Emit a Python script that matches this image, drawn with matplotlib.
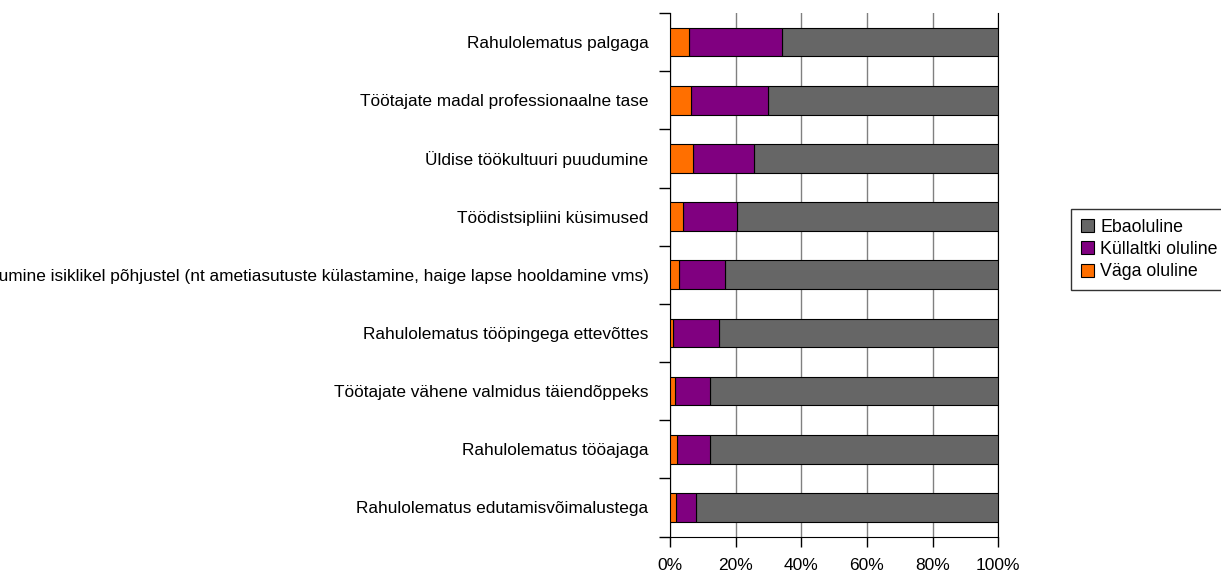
import matplotlib
matplotlib.use("Agg")
import matplotlib.pyplot as plt
import numpy as np

plt.rcParams['font.family'] = ['Liberation Sans', 'DejaVu Sans']

categories = [
    "Rahulolematus palgaga",
    "Töötajate madal professionaalne tase",
    "Üldise töökultuuri puudumine",
    "Töödistsipliini küsimused",
    "Töölt puudumine isiklikel põhjustel (nt ametiasutuste külastamine, haige lapse hooldamine vms)",
    "Rahulolematus tööpingega ettevõttes",
    "Töötajate vähene valmidus täiendõppeks",
    "Rahulolematus tööajaga",
    "Rahulolematus edutamisvõimalustega",
]
vaga_oluline = [5.7, 6.5, 6.9, 3.9, 2.7, 1.0, 1.6, 2.0, 1.7]
kullaltki_oluline = [28.3, 23.4, 18.7, 16.6, 14.0, 14.0, 10.6, 10.2, 6.1]
ebaoluline = [66.0, 70.1, 74.4, 79.5, 83.3, 85.0, 87.8, 87.8, 92.2]
xtick_labels = ["0%", "20%", "40%", "60%", "80%", "100%"]

fig = plt.figure(figsize=(12.21, 5.72), dpi=100)
ax = fig.add_axes([670/1221, 1-536.5/572, (998.3-670)/1221, (536.5-13)/572])

y = np.arange(len(categories))
v = np.array(vaga_oluline)
k = np.array(kullaltki_oluline)
e = np.array(ebaoluline)

h = 0.49
b_e = ax.barh(y, e, left=v+k, height=h, color="#666666", edgecolor="black", linewidth=0.8, label="Ebaoluline", zorder=3)
b_k = ax.barh(y, k, left=v, height=h, color="#800080", edgecolor="black", linewidth=0.8, label="Küllaltki oluline", zorder=3)
b_v = ax.barh(y, v, height=h, color="#FF6F00", edgecolor="black", linewidth=0.8, label="Väga oluline", zorder=3)

ax.set_xlim(0, 100)
ax.set_ylim(len(categories)-0.5, -0.5)

ax.set_xticks(np.arange(0, 101, 20))
ax.set_xticklabels(xtick_labels, fontsize=12.5)
ax.set_yticks(y)
ax.set_yticklabels(categories, fontsize=12.4)
ax.set_yticks(np.arange(-0.5, len(categories), 1), minor=True)
ax.tick_params(axis='y', which='major', length=0, pad=15.5)
ax.tick_params(axis='y', which='minor', length=8, width=1, color='black', direction='out')
ax.tick_params(axis='x', which='major', length=7.2, width=1, color='black', direction='out', pad=8)

ax.grid(axis='x', color='#808080', linewidth=1.0, zorder=0)
ax.set_axisbelow(True)
ax.spines['top'].set_visible(False)
ax.spines['right'].set_color('black')
ax.spines['left'].set_color('black')
ax.spines['bottom'].set_color('black')

leg = fig.legend(handles=[b_e, b_k, b_v], loc='upper left',
                 bbox_to_anchor=(1071/1221, 1-209/572), bbox_transform=fig.transFigure,
                 fontsize=12.8, frameon=True, fancybox=False, edgecolor='black',
                 handlelength=0.75, handleheight=0.75, handletextpad=0.35,
                 labelspacing=0.3, borderpad=0.55, borderaxespad=0)
leg.get_frame().set_linewidth(1)

fig.savefig("out.png", dpi=100)
